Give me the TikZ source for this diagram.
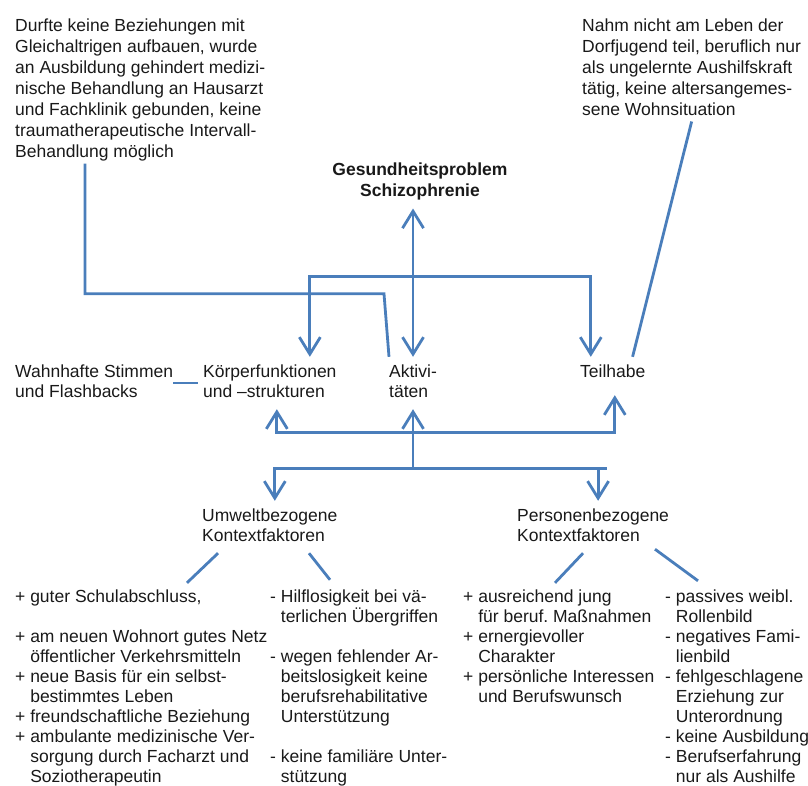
\documentclass[tikz,border=0pt]{standalone}
\usepackage{fontspec}
\setmainfont{Liberation Sans}
\usetikzlibrary{arrows.meta}
\definecolor{icfblue}{HTML}{4A7EBB}
\newcommand\notefont{\fontsize{17.5}{21}\selectfont}
\newcommand\bodyfont{\fontsize{17.5}{20}\selectfont}

\begin{document}
\begin{tikzpicture}[x=1pt,y=1pt]
    % \draw[step=50pt,help lines] (0,0) grid (808,-785);
    \useasboundingbox (0,0) rectangle (808,-785);
    \tikzstyle{every node}=[inner xsep=0pt,inner ysep=6pt,anchor=base west,text=black!90,font=\bodyfont]
    \tikzstyle{link}=[draw=icfblue,line width=2.8pt]
    \tikzstyle{arr}=[link,-{Straight Barb[length=17pt,width=21pt]}]
    \tikzstyle{dbl}=[link,{Straight Barb[length=17pt,width=21pt]}-{Straight Barb[length=17pt,width=21pt]}]

    \node[name=ln,inner ysep=0pt,font=\notefont] at (15,-31) {\begin{tabular}[t]{@{}l@{}}
      Durfte keine Beziehungen mit\\
      Gleichaltrigen aufbauen, wurde\\
      an Ausbildung gehindert medizi-\\
      nische Behandlung an Hausarzt\\
      und Fachklinik gebunden, keine\\
      traumatherapeutische Intervall-\\
      Behandlung möglich\end{tabular}};
    \node[name=rn,inner ysep=0pt,font=\notefont] at (582,-31) {\begin{tabular}[t]{@{}l@{}}
      Nahm nicht am Leben der\\
      Dorfjugend teil, beruflich nur\\
      als ungelernte Aushilfskraft\\
      tätig, keine altersangemes-\\
      sene Wohnsituation\end{tabular}};
    \node[name=gp,anchor=base,font=\notefont\bfseries] at (420,-175) {\begin{tabular}[t]{@{}c@{}}
      Gesundheitsproblem\\Schizophrenie\end{tabular}};

    \node[name=wf] at (15,-377) {\begin{tabular}[t]{@{}l@{}}Wahnhafte Stimmen\\und Flashbacks\end{tabular}};
    \node[name=kf] at (203,-377) {\begin{tabular}[t]{@{}l@{}}Körperfunktionen\\und –strukturen\end{tabular}};
    \node[name=ak] at (389,-377) {\begin{tabular}[t]{@{}l@{}}Aktivi-\\täten\end{tabular}};
    \node[name=th] at (580,-377) {\begin{tabular}[t]{@{}l@{}}Teilhabe\end{tabular}};

    \node[name=uk] at (202,-521) {\begin{tabular}[t]{@{}l@{}}Umweltbezogene\\Kontextfaktoren\end{tabular}};
    \node[name=pk] at (517,-521) {\begin{tabular}[t]{@{}l@{}}Personenbezogene\\Kontextfaktoren\end{tabular}};

    \node[name=c1,inner ysep=0pt] at (15,-602) {\begin{tabular}[t]{@{}l@{\ }l@{}}
      + & guter Schulabschluss,\\
        & \\
      + & am neuen Wohnort gutes Netz\\
        & öffentlicher Verkehrsmitteln\\
      + & neue Basis für ein selbst-\\
        & bestimmtes Leben\\
      + & freundschaftliche Beziehung\\
      + & ambulante medizinische Ver-\\
        & sorgung durch Facharzt und\\
        & Soziotherapeutin\end{tabular}};
    \node[name=c2,inner ysep=0pt] at (270,-602) {\begin{tabular}[t]{@{}l@{\ }l@{}}
      - & Hilflosigkeit bei vä-\\
        & terlichen Übergriffen\\
        & \\
      - & wegen fehlender Ar-\\
        & beitslosigkeit keine\\
        & berufsrehabilitative\\
        & Unterstützung\\
        & \\
      - & keine familiäre Unter-\\
        & stützung\end{tabular}};
    \node[name=c3,inner ysep=0pt] at (463,-602) {\begin{tabular}[t]{@{}l@{\ }l@{}}
      + & ausreichend jung\\
        & für beruf.\ Maßnahmen\\
      + & ernergievoller\\
        & Charakter\\
      + & persönliche Interessen\\
        & und Berufswunsch\end{tabular}};
    \node[name=c4,inner ysep=0pt] at (665,-602) {\begin{tabular}[t]{@{}l@{\ }l@{}}
      - & passives weibl.\\
        & Rollenbild\\
      - & negatives Fami-\\
        & lienbild\\
      - & fehlgeschlagene\\
        & Erziehung zur\\
        & Unterordnung\\
      - & keine Ausbildung\\
      - & Berufserfahrung\\
        & nur als Aushilfe\end{tabular}};

    \draw[dbl] (ak.north) -- (ak.north |- gp.south);
    \draw[dbl] ([xshift=40pt]kf.north) -- ++(0,80) -| ([xshift=-22pt]th.north);
    \draw[link] ([xshift=70pt]ln.south west) |- ([shift={(-5pt,63pt)}]ak.north west) -- (ak.north west);
    \draw[link] (rn.south) -- ([xshift=-13pt]th.north east);
    \draw[link] (wf.east) -- ([xshift=-5pt]kf.west);

    \coordinate (rail) at ([yshift=-23pt]ak.south);
    \coordinate (hub) at ([yshift=-59pt]ak.south);
    \draw[arr] (hub) -- (ak.south);
    \draw[arr] (rail) -| ([xshift=7pt]kf.south);
    \draw[arr] (rail) -| ([shift={(2pt,-6pt)}]th.south);
    \draw[arr] (hub) -| ([xshift=5pt]uk.north);
    \draw[arr] (hub) -| ([xshift=5pt]pk.north);
    \draw[link] (hub) -- ([xshift=14pt]hub -| pk.north);

    \draw[link] ([xshift=16pt]uk.south west) -- ([shift={(172pt,5pt)}]c1.north west);
    \draw[link] ([xshift=107pt]uk.south west) -- ([shift={(60pt,8pt)}]c2.north west);
    \draw[link] ([xshift=66pt]pk.south west) -- ([shift={(92pt,5pt)}]c3.north west);
    \draw[link] ([shift={(138pt,4pt)}]pk.south west) -- ([shift={(33pt,7pt)}]c4.north west);
  \end{tikzpicture}
\end{document}
